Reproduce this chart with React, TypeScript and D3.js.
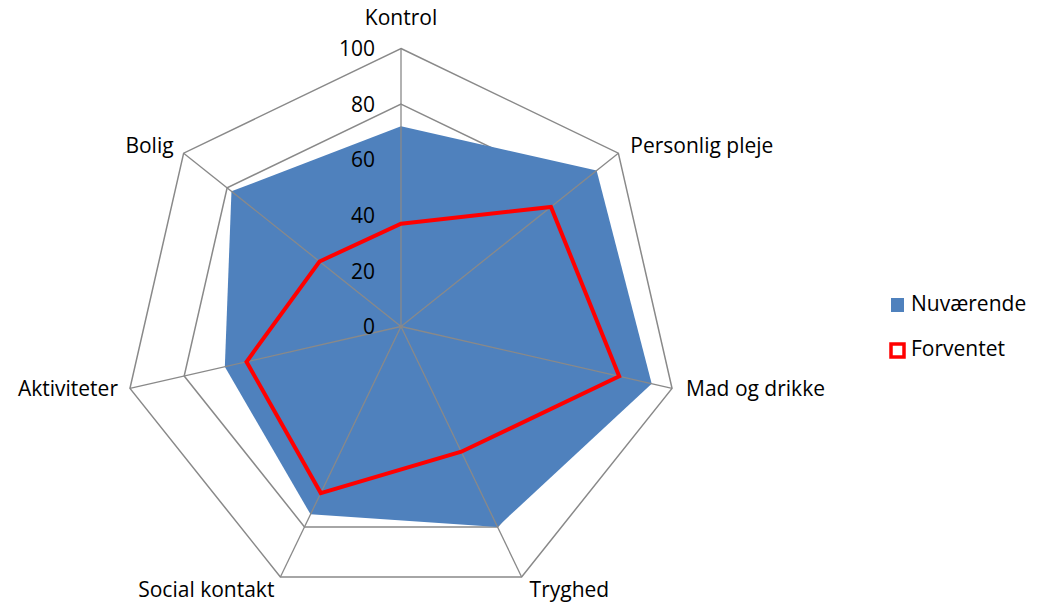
import { useRef, useEffect } from "react";
import * as d3 from "d3";

const categories = ["Kontrol", "Personlig pleje", "Mad og drikke", "Tryghed", "Social kontakt", "Aktiviteter", "Bolig"];
const nuvaerende = [72, 90, 92.5, 80, 75, 65, 78];
const forventet = [37, 69, 80.5, 50, 66.5, 57, 37.5];
const ticks = [0, 20, 40, 60, 80, 100];
const seriesNames = ["Nuværende", "Forventet"];

const FONT = "'Open Sans', 'Liberation Sans', sans-serif";
const FS = 21;

export default function App() {
  const svgRef = useRef<SVGSVGElement>(null);

  useEffect(() => {
    document.body.style.margin = "0";
    if (!svgRef.current) return;
    const svg = d3.select(svgRef.current);
    svg.selectAll("*").remove();

    const cx = 401;
    const cy = 326.5;
    const r = d3.scaleLinear().domain([0, 100]).range([0, 278]);
    const angle = d3.scalePoint<string>().domain(categories).range([0, 2 * Math.PI * (categories.length - 1) / categories.length]);

    const pt = (cat: string, v: number): [number, number] => {
      const a = angle(cat)!;
      return [cx + r(v) * Math.sin(a), cy - r(v) * Math.cos(a)];
    };

    const line = d3.line<[number, number]>().curve(d3.curveLinearClosed);

    const g = svg.append("g");

    // rings
    ticks.slice(1).forEach(t => {
      g.append("path")
        .attr("d", line(categories.map(c => pt(c, t))))
        .attr("fill", "none")
        .attr("stroke", "#898989")
        .attr("stroke-width", 1.5);
    });

    // area
    g.append("path")
      .attr("d", line(categories.map((c, i) => pt(c, nuvaerende[i]))))
      .attr("fill", "#4f81bd");

    // spokes
    categories.forEach(c => {
      const [x, y] = pt(c, 100);
      g.append("line")
        .attr("x1", cx).attr("y1", cy).attr("x2", x).attr("y2", y)
        .attr("stroke", "#898989")
        .attr("stroke-width", 1.3);
    });

    // red line
    g.append("path")
      .attr("d", line(categories.map((c, i) => pt(c, forventet[i]))))
      .attr("fill", "none")
      .attr("stroke", "#ff0000")
      .attr("stroke-width", 4)
      .attr("stroke-linejoin", "miter");

    // tick labels
    ticks.forEach(t => {
      g.append("text")
        .attr("x", 375)
        .attr("y", cy - r(t) + 2)
        .attr("text-anchor", "end")
        .attr("dominant-baseline", "middle")
        .attr("font-family", FONT)
        .attr("font-size", FS)
        .attr("fill", "#000")
        .text(t);
    });

    // category labels
    categories.forEach(c => {
      const a = angle(c)!;
      const [x, y] = pt(c, 100);
      const s = Math.sin(a);
      const co = Math.cos(a);
      let anchor = "middle";
      let dx = 0;
      let dy = 0;
      if (Math.abs(s) < 0.1) {
        dy = -29;
      } else {
        anchor = s > 0 ? "start" : "end";
        if (co < -0.5) {
          dx = s > 0 ? 8 : -6;
          dy = 14;
        } else if (co < 0) {
          dx = s > 0 ? 14 : -12;
          dy = 2;
        } else {
          dx = s > 0 ? 12 : -10;
          dy = -6;
        }
      }
      g.append("text")
        .attr("x", x + dx)
        .attr("y", y + dy)
        .attr("text-anchor", anchor)
        .attr("dominant-baseline", "middle")
        .attr("font-family", FONT)
        .attr("font-size", FS)
        .attr("fill", "#000")
        .text(c);
    });

    // legend
    const legend = svg.append("g").attr("transform", "translate(891,0)");
    legend.append("rect").attr("x", 0).attr("y", 298).attr("width", 13).attr("height", 14).attr("fill", "#4f81bd");
    legend.append("rect").attr("x", 0).attr("y", 344).attr("width", 13).attr("height", 13)
      .attr("fill", "#fff").attr("stroke", "#ff0000").attr("stroke-width", 3.5);
    [305, 350].forEach((y, i) => {
      legend.append("text")
        .attr("x", 20)
        .attr("y", y)
        .attr("dominant-baseline", "middle")
        .attr("font-family", FONT)
        .attr("font-size", FS)
        .attr("fill", "#000")
        .text(seriesNames[i]);
    });
  }, []);

  return <svg ref={svgRef} width={1038} height={606} style={{ display: "block" }}></svg>;
}
